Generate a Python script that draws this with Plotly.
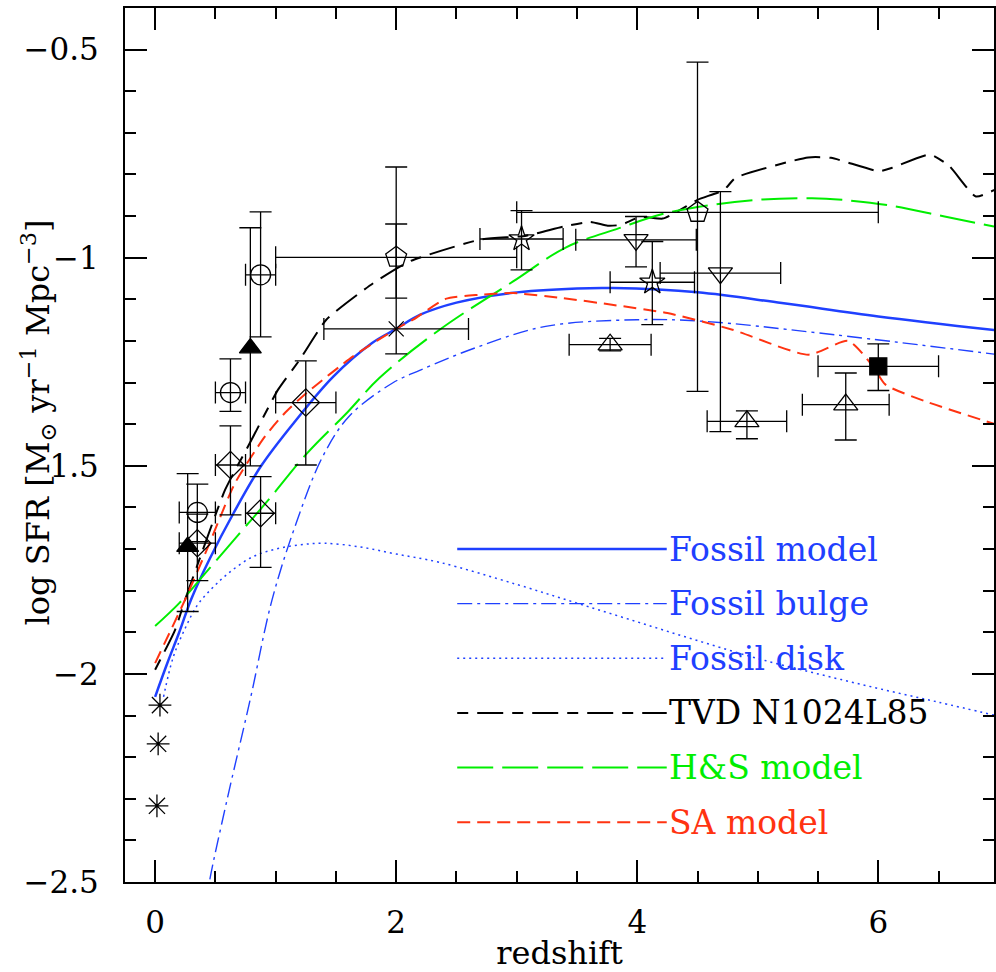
import plotly.graph_objects as go

# ---------------- model curves (redshift, log SFR density) ----------------
fossil_model_z = [0.0, 0.1, 0.2, 0.3, 0.45, 0.65, 0.88, 1.15, 1.48, 1.8, 2.0, 2.2, 2.5, 2.95, 3.5, 3.8, 4.5, 5.2, 6.0, 7.0]
fossil_model_sfr = [-2.055, -1.975, -1.90, -1.82, -1.725, -1.614, -1.50, -1.397, -1.285, -1.205, -1.171,
                    -1.137, -1.108, -1.085, -1.074, -1.073, -1.083, -1.109, -1.141, -1.175]

fossil_bulge_z = [0.42, 0.45, 0.59, 0.79, 0.97, 1.17, 1.39, 1.61, 1.97, 2.2, 2.69, 3.24, 4.0, 4.56, 5.51, 7.0]
fossil_bulge_sfr = [-2.56, -2.5, -2.311, -2.06, -1.822, -1.638, -1.478, -1.381, -1.301, -1.27, -1.213,
                    -1.165, -1.149, -1.153, -1.181, -1.233]

fossil_disk_z = [0.07, 0.15, 0.25, 0.35, 0.47, 0.6, 0.8, 1.0, 1.2, 1.4, 1.7, 2.0, 2.36, 3.0, 3.5, 4.0,
                 4.5, 5.0, 5.5, 6.0, 6.5, 6.96]
fossil_disk_sfr = [-2.055, -1.96, -1.89, -1.835, -1.795, -1.76, -1.72, -1.70, -1.69, -1.686, -1.695,
                   -1.712, -1.732, -1.785, -1.83, -1.875, -1.92, -1.963, -2.0, -2.035, -2.068, -2.099]

tvd_z = [0.0, 0.166, 0.248, 0.386, 0.58, 0.80, 1.02, 1.2, 1.42, 1.81, 2.11, 2.69, 3.08, 3.39, 3.61,
         3.755, 3.866, 4.024, 4.21, 4.31, 4.5, 4.72, 4.816, 5.418, 5.608, 6.004, 6.115, 6.43, 6.59,
         6.81, 7.0]
tvd_sfr = [-1.99, -1.894, -1.822, -1.71, -1.558, -1.4375, -1.317, -1.245, -1.149, -1.061, -1.009,
           -0.957, -0.947, -0.925, -0.914, -0.923, -0.921, -0.902, -0.906, -0.893, -0.861, -0.837,
           -0.808, -0.759, -0.760, -0.792, -0.784, -0.752, -0.780, -0.853, -0.832]

hs_z = [0.0, 0.2, 0.44, 0.69, 0.94, 1.26, 1.6, 1.86, 2.36, 2.97, 3.41, 3.85, 4.21, 4.62, 5.04, 5.45,
        5.7, 6.11, 6.55, 6.96]
hs_sfr = [-1.885, -1.83, -1.75, -1.666, -1.582, -1.47, -1.37, -1.289, -1.173, -1.057, -0.975, -0.929,
          -0.895, -0.873, -0.86, -0.857, -0.861, -0.875, -0.901, -0.925]

sa_z = [0.0, 0.138, 0.248, 0.44, 0.662, 0.91, 1.076, 1.256, 1.642, 2.0, 2.14, 2.41, 2.69, 2.97, 3.38,
        3.79, 4.25, 4.79, 5.42, 5.75, 5.956, 6.06, 6.39, 6.96]
sa_sfr = [-1.974, -1.89, -1.822, -1.694, -1.542, -1.43, -1.373, -1.325, -1.237, -1.171, -1.149, -1.099,
          -1.089, -1.085, -1.097, -1.113, -1.133, -1.173, -1.233, -1.2, -1.261, -1.305, -1.345, -1.399]

# ---------------- observational points ----------------
ast_z = [0.04, 0.025, 0.015]
ast_sfr = [-2.075, -2.168, -2.317]

trif_z = [0.27, 0.79]
trif_sfr = [-1.694, -1.217]
trif_hi = [0.175, 0.289]
trif_lo = [0.156, 0.283]

circ_z = [0.35, 0.625, 0.875]
circ_sfr = [-1.612, -1.324, -1.041]
circ_dz = [0.15, 0.125, 0.125]
circ_hi = [0.068, 0.081, 0.151]
circ_lo = [0.07, 0.045, 0.149]

diam_z = [0.35, 0.625, 0.875, 1.25]
diam_sfr = [-1.686, -1.498, -1.614, -1.348]
diam_dz = [0.15, 0.125, 0.125, 0.25]
diam_hi = [0.07, 0.094, 0.088, 0.10]
diam_lo = [0.09, 0.12, 0.13, 0.15]

pent_z = [2.0, 4.5]
pent_sfr = [-0.999, -0.891]
pent_dz = [1.0, 1.5]
pent_hi = [0.217, 0.361]
pent_lo = [0.098, 0.43]

cross_z = [2.0]
cross_sfr = [-1.171]
cross_dz = [0.6]
cross_hi = [0.252]
cross_lo = [0.06]

star_z = [3.04, 4.125]
star_sfr = [-0.955, -1.059]
star_dz = [0.345, 0.35]
star_hi = [0.068, 0.098]
star_lo = [0.074, 0.102]

tdn_z = [3.99, 4.69]
tdn_sfr = [-0.957, -1.037]
tdn_dz = [0.5, 0.5]
tdn_hi = [0.056, 0.196]
tdn_lo = [0.065, 0.381]

tup_z = [3.775, 4.91, 5.73]
tup_sfr = [-1.209, -1.393, -1.353]
tup_dz = [0.34, 0.33, 0.36]
tup_hi = [0.015, 0.025, 0.076]
tup_lo = [0.015, 0.042, 0.085]

sq_z = [6.0]
sq_sfr = [-1.261]
sq_dz = [0.5]
sq_hi = [0.054]
sq_lo = [0.058]

y_tickvals = [-2.5, -2.0, -1.5, -1.0, -0.5]
y_ticktext = ["\u22122.5", "\u22122", "1.5", "\u22121", "\u22120.5"]
x_tickvals = [0, 2, 4, 6]

legend_labels = ["Fossil model", "Fossil bulge", "Fossil disk", "TVD N1024L85", "H&S model", "SA model"]

# ---------------- styles ----------------
BLUE = "#1f40ff"
GREEN = "#00ee00"
RED = "#ff3311"
BLACK = "#000000"
FONT = "DejaVu Serif"

styles = [
    dict(color=BLUE, width=2.5, dash="solid"),
    dict(color=BLUE, width=1.4, dash="15px,5px,3px,5px"),
    dict(color=BLUE, width=1.5, dash="2px,4px"),
    dict(color=BLACK, width=2.0, dash="11px,9px,26px,9px"),
    dict(color=GREEN, width=2.0, dash="36px,9px"),
    dict(color=RED, width=2.0, dash="13px,7px"),
]
smooth = [1.0, 1.0, 1.0, 0.5, 1.0, 0.6]
text_colors = [BLUE, BLUE, BLUE, BLACK, GREEN, RED]

curves = [
    (fossil_model_z, fossil_model_sfr),
    (fossil_bulge_z, fossil_bulge_sfr),
    (fossil_disk_z, fossil_disk_sfr),
    (tvd_z, tvd_sfr),
    (hs_z, hs_sfr),
    (sa_z, sa_sfr),
]

fig = go.Figure()
for (zz, ss), st, sm, name in zip(curves, styles, smooth, legend_labels):
    line = dict(st, shape="spline", smoothing=sm)
    fig.add_trace(go.Scatter(x=zz, y=ss, mode="lines", line=line, name=name, hoverinfo="skip"))

EB = dict(color=BLACK, thickness=1.3, width=11)


def pts(z, s, symbol, size, dz=None, hi=None, lo=None):
    tr = go.Scatter(
        x=z, y=s, mode="markers",
        marker=dict(symbol=symbol, size=size, color=BLACK, line=dict(color=BLACK, width=1.3)),
        hoverinfo="skip",
    )
    if dz is not None:
        tr.error_x = dict(type="data", array=dz, symmetric=True, **EB)
    if hi is not None:
        tr.error_y = dict(type="data", array=hi, arrayminus=lo, symmetric=False, **EB)
    fig.add_trace(tr)


pts(ast_z, ast_sfr, "asterisk-open", 19)
pts(trif_z, trif_sfr, "triangle-up", 19, hi=trif_hi, lo=trif_lo)
pts(circ_z, circ_sfr, "circle-open", 20, circ_dz, circ_hi, circ_lo)
pts(diam_z, diam_sfr, "diamond-open", 21, diam_dz, diam_hi, diam_lo)
pts(pent_z, pent_sfr, "pentagon-open", 22, pent_dz, pent_hi, pent_lo)
pts(cross_z, cross_sfr, "x-thin-open", 15, cross_dz, cross_hi, cross_lo)
pts(star_z, star_sfr, "star-open", 19, star_dz, star_hi, star_lo)
pts(tdn_z, tdn_sfr, "triangle-down-open", 21, tdn_dz, tdn_hi, tdn_lo)
pts(tup_z, tup_sfr, "triangle-up-open", 21, tup_dz, tup_hi, tup_lo)
pts(sq_z, sq_sfr, "square", 17, sq_dz, sq_hi, sq_lo)

# ---------------- hand-made legend (long line samples + coloured labels) ----------------
LEG_X0, LEG_X1 = 0.3823, 0.6234
LEG_Y0, LEG_DY = 0.381, 0.0625
shapes = []
annotations = []
for i, (st, name, tc) in enumerate(zip(styles, legend_labels, text_colors)):
    yy = LEG_Y0 - i * LEG_DY
    shapes.append(dict(type="line", xref="paper", yref="paper", x0=LEG_X0, x1=LEG_X1, y0=yy, y1=yy,
                       line=dict(color=st["color"], width=st["width"], dash=st["dash"])))
    annotations.append(dict(xref="paper", yref="paper", x=LEG_X1, y=yy, text=name, showarrow=False,
                            xanchor="left", yanchor="middle", font=dict(family=FONT, size=33, color=tc)))

annotations.append(dict(xref="paper", yref="paper", x=-0.1, y=0.526,
                        text="log SFR [M<sub>\u2299</sub> yr<sup>\u22121</sup> Mpc<sup>\u22123</sup>]",
                        textangle=-90, showarrow=False, xanchor="center", yanchor="middle",
                        font=dict(family=FONT, size=32, color=BLACK)))

axis_common = dict(showline=True, linecolor=BLACK, linewidth=2, mirror="ticks", ticks="inside",
                   tickcolor=BLACK, tickwidth=1.5, ticklen=22, showgrid=False, zeroline=False,
                   tickfont=dict(family=FONT, size=31, color=BLACK))

fig.update_layout(
    width=996, height=972,
    margin=dict(l=125, r=0, t=8, b=90),
    paper_bgcolor="white", plot_bgcolor="white",
    showlegend=False,
    shapes=shapes, annotations=annotations,
    xaxis=dict(range=[-0.25, 6.96], tickmode="array", tickvals=x_tickvals,
               minor=dict(tickmode="linear", tick0=0, dtick=0.5, ticks="inside", ticklen=11,
                          tickcolor=BLACK, tickwidth=1.5),
               ticklabelstandoff=12,
               title=dict(text="redshift", font=dict(family=FONT, size=32, color=BLACK), standoff=6),
               **axis_common),
    yaxis=dict(range=[-2.5, -0.4], tickmode="array", tickvals=y_tickvals, ticktext=y_ticktext,
               minor=dict(tickmode="linear", tick0=0, dtick=0.1, ticks="inside", ticklen=11,
                          tickcolor=BLACK, tickwidth=1.5),
               ticklabelstandoff=18,
               **axis_common),
)

fig.write_html("out.html")
